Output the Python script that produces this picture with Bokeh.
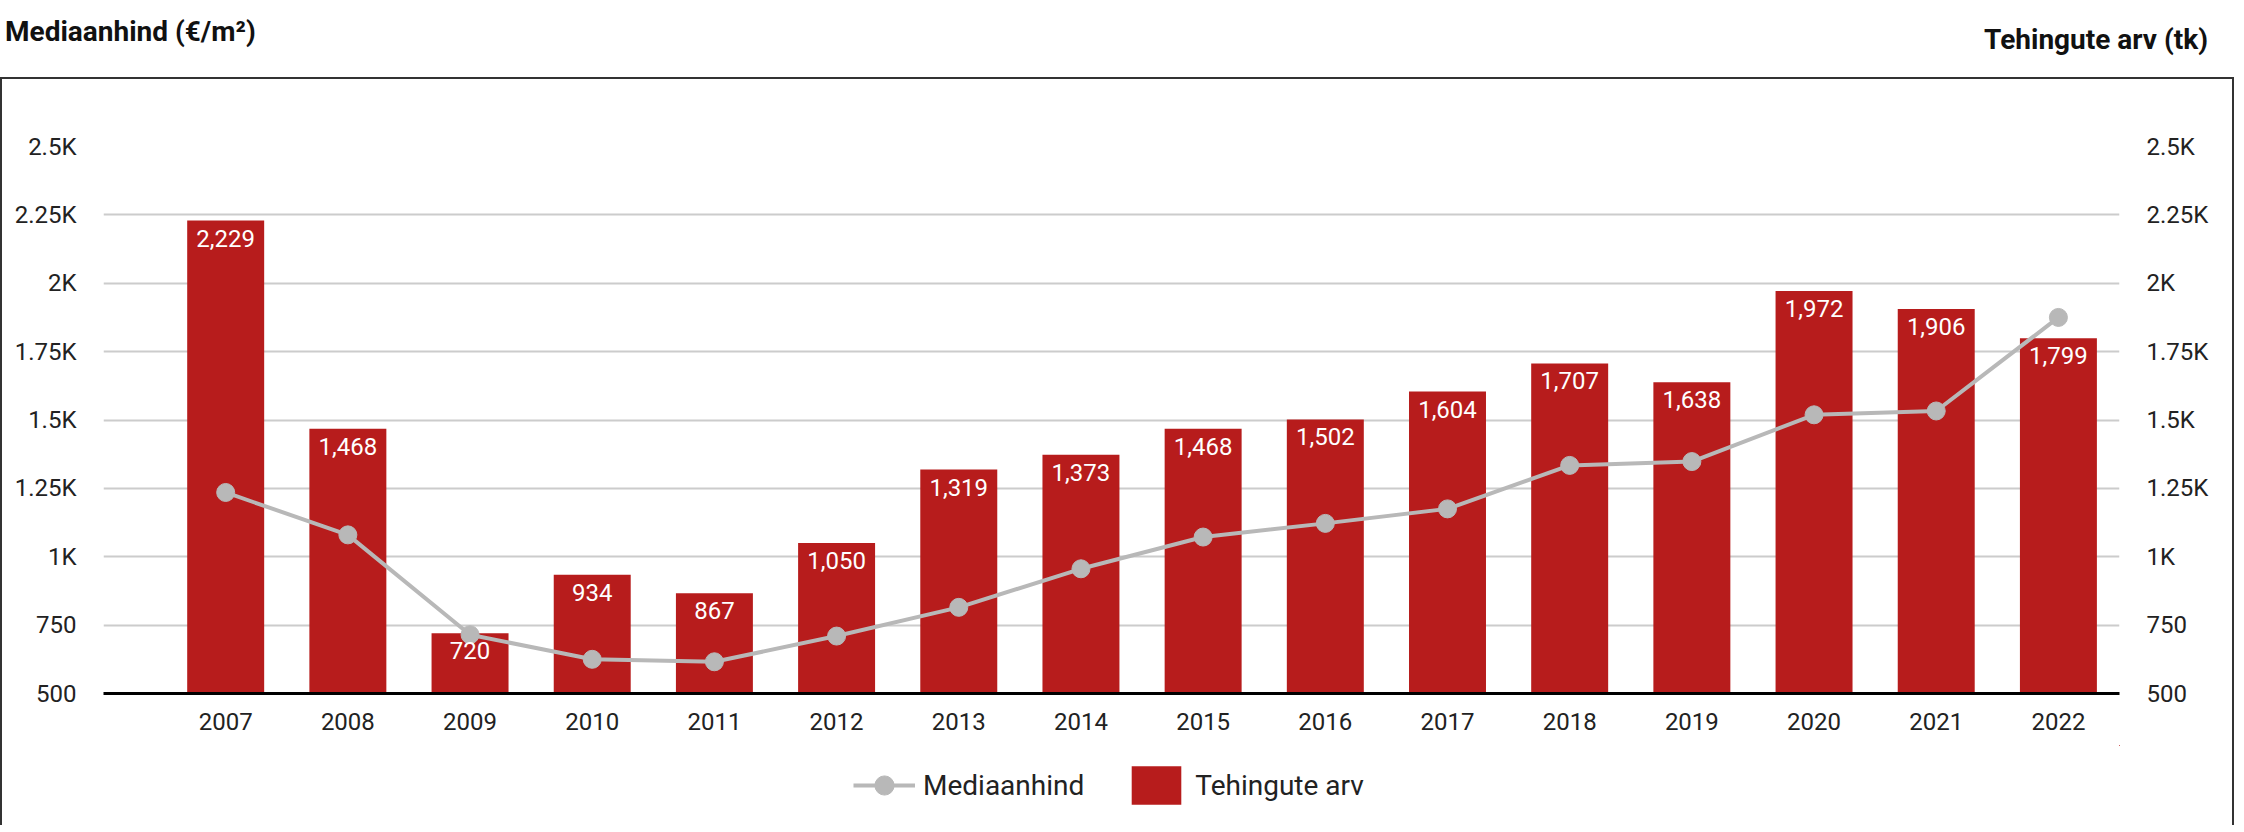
from bokeh.plotting import figure
from bokeh.layouts import column
from bokeh.models import (Range1d, LinearAxis, FixedTicker, ColumnDataSource, LabelSet,
                          Legend, LegendItem, Div)
from bokeh.core.properties import value
from bokeh.embed import file_html
from bokeh.resources import INLINE

# ---- data ----
years = [2007, 2008, 2009, 2010, 2011, 2012, 2013, 2014, 2015, 2016, 2017, 2018, 2019, 2020, 2021, 2022]
tehingute_arv = [2229, 1468, 720, 934, 867, 1050, 1319, 1373, 1468, 1502, 1604, 1707, 1638, 1972, 1906, 1799]
mediaanhind = [1235, 1080, 715, 625, 616, 710, 815, 956, 1072, 1122, 1175, 1334, 1348, 1519, 1533, 1875]
y_ticks = [500, 750, 1000, 1250, 1500, 1750, 2000, 2250, 2500]
y_tick_labels = ["500", "750", "1K", "1.25K", "1.5K", "1.75K", "2K", "2.25K", "2.5K"]
left_title = "Mediaanhind (€/m²)"
right_title = "Tehingute arv (tk)"
series_line = "Mediaanhind"
series_bar = "Tehingute arv"

BAR = "#b71c1c"
LINE = "#b8b8b8"
FONT = "Roboto"
BORDER = "2px solid #333333"

# ---- header with the two axis titles ----
header_html = (
    '<div style="position:relative;width:2238px;height:77px;font-family:Roboto;'
    'font-weight:bold;font-size:28px;line-height:28px;color:#111111;">'
    f'<span style="position:absolute;left:5px;top:18px;white-space:nowrap;">{left_title}</span>'
    f'<span style="position:absolute;right:30px;top:26px;white-space:nowrap;">{right_title}</span>'
    '</div>'
)
header = Div(text=header_html, width=2238, height=77, styles={"margin": "0", "padding": "0"})

# ---- main figure ----
W, H = 2234, 668
ML, MR, MT, MB = 101, 117, 67, 54

p = figure(width=W, height=H, output_backend="svg", toolbar_location=None,
           x_range=Range1d(2006, 2022.5), y_range=Range1d(500, 2500),
           min_border_left=ML, min_border_right=MR, min_border_top=MT, min_border_bottom=MB)
p.extra_y_ranges = {"right": Range1d(500, 2500)}
p.outline_line_color = None
p.background_fill_color = "white"
p.border_fill_color = "white"
p.styles = {"border-left": BORDER, "border-top": BORDER, "border-right": BORDER}

src = ColumnDataSource(dict(
    x=years, n=tehingute_arv, m=mediaanhind,
    lbl=[f"{v:,}" for v in tehingute_arv],
))

bars = p.vbar(x="x", top="n", bottom=0, width=0.63, source=src, color=BAR,
              line_color=None, y_range_name="right")
line_r = p.line(x="x", y="m", source=src, line_color=LINE, line_width=4)
pts_r = p.scatter(x="x", y="m", source=src, size=18, fill_color=LINE, line_color=LINE)

labels = LabelSet(x="x", y="n", text="lbl", source=src, y_range_name="right",
                  text_align="center", text_baseline="top", y_offset=-9,
                  text_color="white", text_font=value(FONT), text_font_size="24px")
p.add_layout(labels)

tick_overrides = {t: l for t, l in zip(y_ticks, y_tick_labels)}
ax = p.yaxis[0]
ax.ticker = FixedTicker(ticks=y_ticks)
ax.major_label_overrides = tick_overrides
ax.axis_line_color = None
ax.major_tick_line_color = None
ax.minor_tick_line_color = None
ax.major_label_standoff = 21
ax.major_label_text_font = FONT
ax.major_label_text_font_size = "24px"
ax.major_label_text_color = "#222222"

rax = LinearAxis(y_range_name="right", ticker=FixedTicker(ticks=y_ticks),
                 major_label_overrides=tick_overrides, axis_line_color=None,
                 major_tick_line_color=None, minor_tick_line_color=None,
                 major_label_standoff=21, major_label_text_font=FONT,
                 major_label_text_font_size="24px", major_label_text_color="#222222")
p.add_layout(rax, "right")

xa = p.xaxis[0]
xa.ticker = FixedTicker(ticks=years)
xa.major_label_overrides = {y: str(y) for y in years}
xa.axis_line_color = "black"
xa.axis_line_width = 3
xa.major_tick_line_color = None
xa.minor_tick_line_color = None
xa.major_label_standoff = 13
xa.major_label_text_font = FONT
xa.major_label_text_font_size = "24px"
xa.major_label_text_color = "#222222"

p.xgrid.grid_line_color = None
p.ygrid.ticker = FixedTicker(ticks=y_ticks)
p.ygrid.grid_line_color = "#cccccc"
p.ygrid.grid_line_width = 2

# ---- legend strip (continues the bordered box below the plot) ----
LH = 80
pl = figure(width=W, height=LH, output_backend="svg", toolbar_location=None,
            x_range=Range1d(1990, 2000), y_range=Range1d(0, 400),
            x_axis_type=None, y_axis_type=None,
            min_border_left=0, min_border_right=0, min_border_top=0, min_border_bottom=0)
pl.outline_line_color = None
pl.grid.visible = False
pl.styles = {"border-left": BORDER, "border-right": BORDER}

# same series, entirely outside this strip's view: only their legend swatches show
leg_line = pl.line(x="x", y="m", source=src, line_color=LINE, line_width=4)
leg_pts = pl.scatter(x="x", y="m", source=src, size=18, fill_color=LINE, line_color=LINE)
leg_bar = pl.vbar(x="x", top="n", bottom=500, width=0.63, source=src, color=BAR, line_color=None)

legend = Legend(items=[LegendItem(label=series_line, renderers=[leg_line, leg_pts]),
                       LegendItem(label=series_bar, renderers=[leg_bar])],
                orientation="horizontal", location=(750, 16),
                margin=0, padding=0, border_line_color=None, background_fill_alpha=0,
                glyph_width=62, glyph_height=48, label_standoff=8, spacing=41,
                label_text_font=FONT, label_text_font_size="28px", label_text_color="#222222")
pl.add_layout(legend)

layout = column(header, p, pl, spacing=0)
open("out.html", "w").write(file_html(layout, INLINE))
